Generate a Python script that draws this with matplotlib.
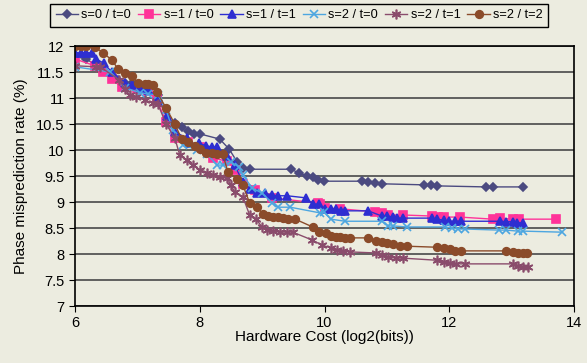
import matplotlib.pyplot as plt

# s=0 / t=0
x_s0t0 = [6.0, 6.18, 6.45, 6.59, 6.69, 6.80, 6.91, 7.04, 7.17, 7.33, 7.47, 7.60, 7.71, 7.81,
          7.91, 8.00, 8.32, 8.47, 8.60, 8.69, 8.80, 9.46, 9.59, 9.72, 9.81, 9.89, 9.99, 10.60,
          10.70, 10.81, 10.92, 11.59, 11.71, 11.80, 12.59, 12.70, 13.18]
y_s0t0 = [11.80, 11.75, 11.55, 11.45, 11.35, 11.29, 11.29, 11.20, 11.15, 11.05, 10.62, 10.52,
          10.44, 10.37, 10.31, 10.31, 10.21, 10.02, 9.77, 9.65, 9.63, 9.63, 9.56, 9.50, 9.48,
          9.42, 9.40, 9.40, 9.38, 9.37, 9.35, 9.33, 9.33, 9.31, 9.29, 9.29, 9.29]

# s=1 / t=0
x_s1t0 = [6.0, 6.32, 6.45, 6.59, 6.75, 6.99, 7.17, 7.31, 7.46, 7.60, 7.81, 8.00, 8.21, 8.44,
          8.58, 8.69, 8.88, 9.16, 9.89, 9.93, 10.01, 10.25, 10.81, 10.92, 11.02, 11.26, 11.72,
          11.82, 11.91, 12.17, 12.70, 12.81, 13.02, 13.12, 13.71]
y_s1t0 = [11.75, 11.62, 11.50, 11.37, 11.21, 11.17, 11.13, 10.98, 10.54, 10.23, 10.15, 10.06,
          9.85, 9.78, 9.62, 9.35, 9.23, 9.08, 8.98, 8.96, 8.88, 8.87, 8.81, 8.79, 8.75, 8.75,
          8.73, 8.72, 8.71, 8.71, 8.67, 8.69, 8.67, 8.67, 8.67]

# s=1 / t=1
x_s1t1 = [6.0, 6.10, 6.18, 6.27, 6.34, 6.46, 6.59, 6.80, 6.91, 7.04, 7.17, 7.33, 7.47, 7.60,
          7.79, 7.83, 7.99, 8.10, 8.20, 8.28, 8.44, 8.56, 8.69, 8.80, 8.92, 9.04, 9.16, 9.25,
          9.40, 9.70, 9.81, 9.91, 10.01, 10.10, 10.18, 10.26, 10.33, 10.70, 10.92, 11.00, 11.10,
          11.16, 11.26, 11.72, 11.80, 11.91, 12.00, 12.09, 12.19, 12.81, 12.91, 13.02, 13.08, 13.18]
y_s1t1 = [11.87, 11.87, 11.87, 11.87, 11.75, 11.67, 11.50, 11.29, 11.25, 11.19, 11.15, 11.02,
          10.65, 10.35, 10.23, 10.13, 10.13, 10.08, 10.06, 10.06, 9.88, 9.71, 9.38, 9.25, 9.17,
          9.17, 9.13, 9.12, 9.12, 9.08, 8.96, 8.96, 8.87, 8.87, 8.87, 8.83, 8.83, 8.83, 8.73,
          8.73, 8.71, 8.69, 8.69, 8.69, 8.67, 8.65, 8.63, 8.63, 8.63, 8.63, 8.62, 8.62, 8.60, 8.60]

# s=2 / t=0
x_s2t0 = [6.0, 6.56, 6.80, 7.04, 7.17, 7.33, 7.46, 7.57, 7.73, 7.96, 8.12, 8.28, 8.37, 8.50,
          8.63, 8.69, 8.84, 9.00, 9.16, 9.25, 9.45, 9.93, 9.99, 10.10, 10.33, 10.92, 11.02,
          11.10, 11.32, 11.93, 12.04, 12.14, 12.25, 12.79, 12.91, 13.10, 13.18, 13.80]
y_s2t0 = [11.60, 11.50, 11.20, 11.10, 11.08, 11.06, 10.77, 10.38, 10.10, 10.00, 9.92, 9.71,
          9.71, 9.77, 9.67, 9.52, 9.27, 9.17, 8.98, 8.90, 8.90, 8.79, 8.81, 8.67, 8.63, 8.63,
          8.54, 8.54, 8.52, 8.52, 8.50, 8.48, 8.48, 8.46, 8.46, 8.44, 8.44, 8.42]

# s=2 / t=1
x_s2t1 = [6.0, 6.34, 6.40, 6.71, 6.80, 6.88, 6.98, 7.12, 7.25, 7.33, 7.46, 7.60, 7.68, 7.79,
          7.89, 8.00, 8.12, 8.21, 8.32, 8.44, 8.50, 8.56, 8.69, 8.80, 8.90, 9.00, 9.08, 9.17,
          9.29, 9.40, 9.49, 9.80, 9.96, 10.10, 10.20, 10.29, 10.41, 10.82, 10.92, 11.02, 11.14,
          11.26, 11.80, 11.91, 12.01, 12.11, 12.25, 13.02, 13.10, 13.18, 13.26]
y_s2t1 = [11.62, 11.60, 11.60, 11.35, 11.17, 11.05, 11.02, 10.96, 10.90, 10.88, 10.50, 10.23,
          9.90, 9.80, 9.71, 9.62, 9.56, 9.52, 9.48, 9.46, 9.33, 9.19, 9.10, 8.75, 8.67, 8.52,
          8.46, 8.44, 8.42, 8.42, 8.42, 8.27, 8.17, 8.12, 8.08, 8.06, 8.04, 8.02, 7.98, 7.94,
          7.92, 7.92, 7.88, 7.85, 7.83, 7.81, 7.81, 7.81, 7.77, 7.75, 7.75]

# s=2 / t=2
x_s2t2 = [6.0, 6.10, 6.18, 6.32, 6.45, 6.59, 6.69, 6.80, 6.91, 7.01, 7.12, 7.17, 7.25, 7.31,
          7.46, 7.60, 7.71, 7.81, 7.92, 8.00, 8.10, 8.20, 8.28, 8.37, 8.45, 8.60, 8.69, 8.80,
          8.92, 9.01, 9.09, 9.17, 9.25, 9.33, 9.41, 9.53, 9.81, 9.91, 10.02, 10.10, 10.18,
          10.25, 10.33, 10.41, 10.70, 10.82, 10.92, 11.00, 11.10, 11.21, 11.32, 11.80, 11.91,
          12.01, 12.09, 12.19, 12.91, 13.02, 13.10, 13.18, 13.24]
y_s2t2 = [12.00, 12.00, 12.00, 11.98, 11.87, 11.73, 11.56, 11.48, 11.42, 11.29, 11.27, 11.27,
          11.25, 11.12, 10.81, 10.50, 10.21, 10.15, 10.08, 10.02, 9.94, 9.94, 9.92, 9.92, 9.58,
          9.44, 9.33, 8.98, 8.90, 8.77, 8.73, 8.71, 8.71, 8.69, 8.67, 8.67, 8.52, 8.42, 8.40,
          8.35, 8.33, 8.33, 8.31, 8.31, 8.31, 8.25, 8.23, 8.21, 8.19, 8.15, 8.15, 8.13, 8.12,
          8.10, 8.06, 8.06, 8.06, 8.04, 8.02, 8.02, 8.02]

labels = ["s=0 / t=0", "s=1 / t=0", "s=1 / t=1", "s=2 / t=0", "s=2 / t=1", "s=2 / t=2"]
y_ticks = [7, 7.5, 8, 8.5, 9, 9.5, 10, 10.5, 11, 11.5, 12]
x_ticks = [6, 8, 10, 12, 14]


def main():
    plt.rcParams['font.family'] = ['Liberation Sans', 'DejaVu Sans']
    bg = '#ECECE0'

    fig = plt.figure(figsize=(5.87, 3.63), dpi=100, facecolor=bg)
    ax = fig.add_axes([75 / 587, 1 - 306 / 363, 499 / 587, 260 / 363])
    ax.set_facecolor(bg)

    for yv in y_ticks:
        ax.axhline(yv, color='#555555', lw=1.3, zorder=0)

    styles = [
        (x_s0t0, y_s0t0, '#4B4A80', 'D', 4.5),
        (x_s1t0, y_s1t0, '#FF3399', 's', 6),
        (x_s1t1, y_s1t1, '#2E2ED1', '^', 6),
        (x_s2t0, y_s2t0, '#4DA6E0', 'x', 6),
        (x_s2t1, y_s2t1, '#8A4C6C', (6, 2, 0), 7),
        (x_s2t2, y_s2t2, '#8B4B2A', 'o', 5.5),
    ]
    for (xs, ys, c, m, ms), lab in zip(styles, labels):
        ax.plot(xs, ys, color=c, marker=m, markersize=ms, lw=1, mew=1.2, label=lab)

    ax.set_xlim(6, 14)
    ax.set_ylim(7, 12)
    ax.set_xticks(x_ticks)
    ax.set_yticks(y_ticks)
    ax.set_yticklabels(['7', '7.5', '8', '8.5', '9', '9.5', '10', '10.5', '11', '11.5', '12'])
    ax.tick_params(labelsize=10.5, color='black', length=4, direction='out')
    for s in ax.spines.values():
        s.set_color('black')
        s.set_linewidth(1.2)

    ax.set_xlabel("Hardware Cost (log2(bits))", fontsize=11, labelpad=0)
    ax.set_ylabel("Phase misprediction rate (%)", fontsize=11, labelpad=6)

    leg = fig.legend(loc='upper left', bbox_to_anchor=(50 / 587, 1 - 3.5 / 363), ncol=6,
                     fontsize=9.2, frameon=True, fancybox=False, edgecolor='black',
                     facecolor=bg, framealpha=1, handlelength=1.75, handletextpad=0.25,
                     columnspacing=0.55, borderpad=0.45, borderaxespad=0)
    leg.get_frame().set_linewidth(1.0)

    fig.savefig("out.png", dpi=100, facecolor=bg)


if __name__ == "__main__":
    main()
